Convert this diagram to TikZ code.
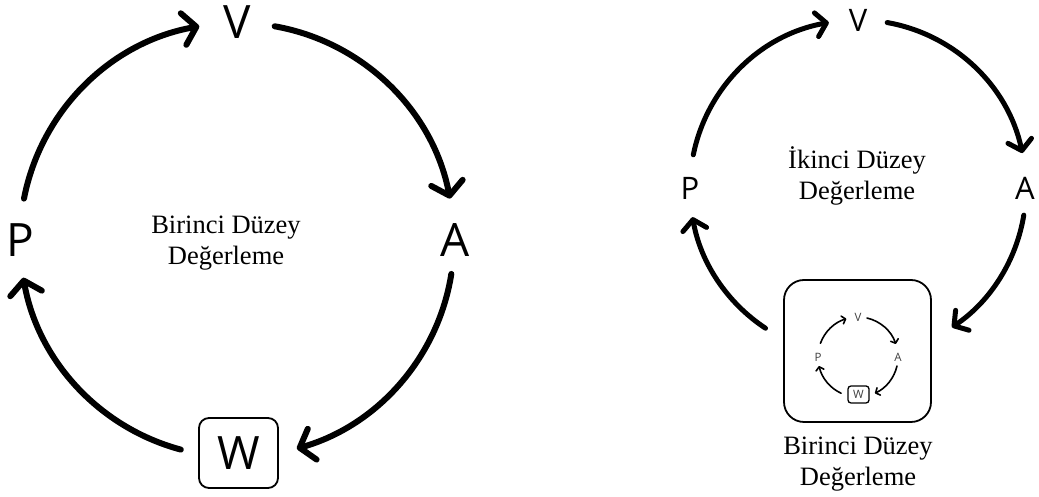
\documentclass[tikz,border=0pt]{standalone}
\usepackage{fontspec}
\setmainfont{Liberation Serif}
\newfontfamily\lblfont{Open Sans}
\usetikzlibrary{arrows.meta,calc}
\begin{document}
\begin{tikzpicture}[x=1pt,y=1pt,
  bigarrow/.style={line width=6pt, line cap=round, -{Straight Barb[length=13pt,width=32pt,line cap=round,line join=round]}},
  midarrow/.style={line width=5pt, line cap=round, -{Straight Barb[length=10pt,width=24pt,line cap=round,line join=round]}},
  tinyarrow/.style={line width=1.6pt, line cap=round, -{Straight Barb[length=3.4pt,width=8pt,line cap=round,line join=round]}},
  biglbl/.style={font=\lblfont\fontsize{46}{46}\selectfont, inner sep=0pt},
  midlbl/.style={font=\lblfont\fontsize{31}{31}\selectfont, inner sep=0pt},
  tinylbl/.style={font=\lblfont\fontsize{11.5}{11.5}\selectfont, inner sep=0pt, text=black!75},
  caption/.style={font=\fontsize{26.5}{31}\selectfont, align=center, inner sep=0pt},
  wbox/.style={draw, rounded corners=#1, line width=1.8pt}
]
\useasboundingbox[fill=white] (0,0) rectangle (1039,497);

% ---------- left cycle ----------
\coordinate (cL) at (237,257);
\node[biglbl] (V1) at (237,475) {V};
\node[biglbl] (A1) at (455,257) {A};
\node[biglbl] (P1) at (20,257) {P};
\node[wbox=10pt, minimum width=79pt, minimum height=70pt, inner sep=0pt] (W1box) at (238.5,44) {};
\node[biglbl] (W1) at (W1box.center) {W};
\node[caption] (T1) at (226,254) {Birinci Düzey\\Değerleme};

\draw[bigarrow] ($(cL)+(169:217)$) arc[start angle=169, end angle=100, radius=217];
\draw[bigarrow] ($(cL)+(80:217)$) arc[start angle=80, end angle=11, radius=217];
\draw[bigarrow] ($(cL)+(-9:217)$) arc[start angle=-9, end angle=-74, radius=217];
\draw[bigarrow] ($(cL)+(-105:217)$) arc[start angle=-105, end angle=-170, radius=217];

% ---------- right cycle ----------
\coordinate (cR) at (858,309);
\node[midlbl] (V2) at (858,477) {V};
\node[midlbl] (A2) at (1025,309) {A};
\node[midlbl] (P2) at (690,309) {P};
\node[wbox=20pt, minimum width=147pt, minimum height=142pt, inner sep=0pt] (B2) at (857.5,146) {};
\node[caption] (T2) at (857,321) {İkinci Düzey\\Değerleme};
\node[caption] (T3) at (858,33) {Birinci Düzey\\Değerleme};

\draw[midarrow] ($(cR)+(168.6:168)$) arc[start angle=168.6, end angle=100, radius=168];
\draw[midarrow] ($(cR)+(80:168)$) arc[start angle=80, end angle=12, radius=168];
\draw[midarrow] ($(cR)+(-9.3:168)$) arc[start angle=-9.3, end angle=-56, radius=168];
\draw[midarrow] ($(cR)+(-123.4:168)$) arc[start angle=-123.4, end angle=-170, radius=168];

% ---------- mini cycle ----------
\coordinate (cM) at (858,140);
\node[tinylbl] (V3) at (858,180) {V};
\node[tinylbl] (A3) at (898,140) {A};
\node[tinylbl] (P3) at (818,140) {P};
\node[draw, rounded corners=3pt, line width=1.3pt, minimum width=21pt, minimum height=17pt, inner sep=0pt] (W3box) at (858.5,102.5) {};
\node[tinylbl] (W3) at (W3box.center) {W};

\draw[tinyarrow] ($(cM)+(160:40)$) arc[start angle=160, end angle=107, radius=40];
\draw[tinyarrow] ($(cM)+(77:40)$) arc[start angle=77, end angle=19, radius=40];
\draw[tinyarrow] ($(cM)+(-13:40)$) arc[start angle=-13, end angle=-65, radius=40];
\draw[tinyarrow] ($(cM)+(-115:40)$) arc[start angle=-115, end angle=-167, radius=40];
\end{tikzpicture}
\end{document}
